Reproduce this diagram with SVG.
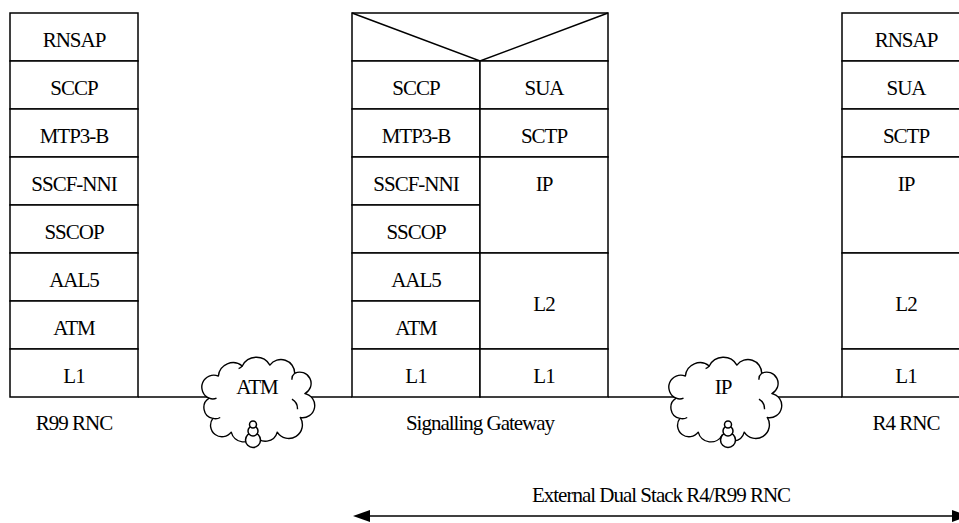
<svg xmlns="http://www.w3.org/2000/svg" width="959" height="523" viewBox="0 0 959 523">
<style>
.box{fill:#fff;stroke:#000;stroke-width:1.5}
.ln{fill:none;stroke:#000;stroke-width:1.5}
.cl{fill:#fff;stroke:#000;stroke-width:1.5;stroke-linejoin:round}
.t{font-family:'Liberation Serif',serif;font-size:21px;letter-spacing:-1px;text-anchor:middle;fill:#000}
</style>

<g id="connectors">
<line class="ln" x1="138" y1="397" x2="352" y2="397"/>
<line class="ln" x1="608" y1="397" x2="842" y2="397"/>
<line class="ln" x1="365" y1="516" x2="960" y2="516"/>
<polygon points="353,516 370,510 370,522" fill="#000"/>
<polygon points="969,516 952,510 952,522" fill="#000"/>
</g>

<g id="r99rnc">
<rect class="box" x="10" y="13" width="128" height="48"/>
<rect class="box" x="10" y="61" width="128" height="48"/>
<rect class="box" x="10" y="109" width="128" height="48"/>
<rect class="box" x="10" y="157" width="128" height="48"/>
<rect class="box" x="10" y="205" width="128" height="48"/>
<rect class="box" x="10" y="253" width="128" height="48"/>
<rect class="box" x="10" y="301" width="128" height="48"/>
<rect class="box" x="10" y="349" width="128" height="48"/>
<text class="t" x="74" y="46.5">RNSAP</text>
<text class="t" x="74" y="94.5">SCCP</text>
<text class="t" x="74" y="142.5">MTP3-B</text>
<text class="t" x="74" y="190.5">SSCF-NNI</text>
<text class="t" x="74" y="238.5">SSCOP</text>
<text class="t" x="74" y="286.5">AAL5</text>
<text class="t" x="74" y="334.5">ATM</text>
<text class="t" x="74" y="382.5">L1</text>
<text class="t" x="74" y="430">R99 RNC</text>
</g>

<g id="gateway">
<rect class="box" x="352" y="13" width="256" height="48"/>
<polyline class="ln" points="352,13 480,61 608,13"/>
<rect class="box" x="352" y="61" width="128" height="48"/>
<rect class="box" x="352" y="109" width="128" height="48"/>
<rect class="box" x="352" y="157" width="128" height="48"/>
<rect class="box" x="352" y="205" width="128" height="48"/>
<rect class="box" x="352" y="253" width="128" height="48"/>
<rect class="box" x="352" y="301" width="128" height="48"/>
<rect class="box" x="352" y="349" width="128" height="48"/>
<rect class="box" x="480" y="61" width="128" height="48"/>
<rect class="box" x="480" y="109" width="128" height="48"/>
<rect class="box" x="480" y="157" width="128" height="96"/>
<rect class="box" x="480" y="253" width="128" height="96"/>
<rect class="box" x="480" y="349" width="128" height="48"/>
<text class="t" x="416" y="94.5">SCCP</text>
<text class="t" x="416" y="142.5">MTP3-B</text>
<text class="t" x="416" y="190.5">SSCF-NNI</text>
<text class="t" x="416" y="238.5">SSCOP</text>
<text class="t" x="416" y="286.5">AAL5</text>
<text class="t" x="416" y="334.5">ATM</text>
<text class="t" x="416" y="382.5">L1</text>
<text class="t" x="544" y="94.5">SUA</text>
<text class="t" x="544" y="142.5">SCTP</text>
<text class="t" x="544" y="190.5">IP</text>
<text class="t" x="544" y="311">L2</text>
<text class="t" x="544" y="382.5">L1</text>
<text class="t" x="480" y="430">Signalling Gateway</text>
</g>

<g id="r4rnc">
<rect class="box" x="842" y="13" width="128" height="48"/>
<rect class="box" x="842" y="61" width="128" height="48"/>
<rect class="box" x="842" y="109" width="128" height="48"/>
<rect class="box" x="842" y="157" width="128" height="96"/>
<rect class="box" x="842" y="253" width="128" height="96"/>
<rect class="box" x="842" y="349" width="128" height="48"/>
<text class="t" x="906" y="46.5">RNSAP</text>
<text class="t" x="906" y="94.5">SUA</text>
<text class="t" x="906" y="142.5">SCTP</text>
<text class="t" x="906" y="190.5">IP</text>
<text class="t" x="906" y="311">L2</text>
<text class="t" x="906" y="382.5">L1</text>
<text class="t" x="906" y="430">R4 RNC</text>
</g>

<g id="atmcloud">
<g transform="translate(257,400) scale(0.92)">
<path class="cl" d="M -52 -2 A 12 12 0 0 1 -42 -26 A 16 16 0 0 1 -16 -37 A 17 17 0 0 1 14 -38 A 15 15 0 0 1 41 -29 A 12 12 0 0 1 52 -7 A 13 13 0 0 1 47 19 A 14 14 0 0 1 22 35 A 13 13 0 0 1 -2 38 A 14 14 0 0 1 -28 35 A 12 12 0 0 1 -48 20 A 12 12 0 0 1 -52 -2 Z"/>
<path class="ln" d="M -44 -2 A 10 10 0 0 1 -52 -2 M 38 -22 A 8 8 0 0 1 41 -29 M 44 10 A 12 12 0 0 0 38 -1 M -40 19 A 10 10 0 0 1 -48 20 M -20 -34 A 8 8 0 0 0 -16 -37"/>
</g>
<circle class="cl" cx="253" cy="440" r="7.5"/>
<circle class="cl" cx="253" cy="431" r="5"/>
<circle class="cl" cx="253" cy="424.5" r="3.5"/>
<text class="t" x="257" y="394">ATM</text>
</g>

<g id="ipcloud">
<g transform="translate(724,400) scale(0.92)">
<path class="cl" d="M -52 -2 A 12 12 0 0 1 -42 -26 A 16 16 0 0 1 -16 -37 A 17 17 0 0 1 14 -38 A 15 15 0 0 1 41 -29 A 12 12 0 0 1 52 -7 A 13 13 0 0 1 47 19 A 14 14 0 0 1 22 35 A 13 13 0 0 1 -2 38 A 14 14 0 0 1 -28 35 A 12 12 0 0 1 -48 20 A 12 12 0 0 1 -52 -2 Z"/>
<path class="ln" d="M -44 -2 A 10 10 0 0 1 -52 -2 M 38 -22 A 8 8 0 0 1 41 -29 M 44 10 A 12 12 0 0 0 38 -1 M -40 19 A 10 10 0 0 1 -48 20 M -20 -34 A 8 8 0 0 0 -16 -37"/>
</g>
<circle class="cl" cx="728" cy="440" r="7.5"/>
<circle class="cl" cx="728" cy="431" r="5"/>
<circle class="cl" cx="728" cy="424.5" r="3.5"/>
<text class="t" x="723" y="394">IP</text>
</g>

<g id="extlabel">
<text class="t" x="661" y="502">External Dual Stack R4/R99 RNC</text>
</g>
</svg>
